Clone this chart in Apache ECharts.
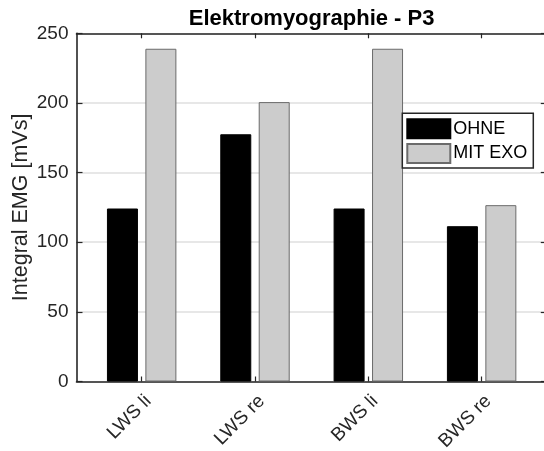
<!DOCTYPE html>
<html>
<head>
<meta charset="utf-8">
<script src="https://cdn.jsdelivr.net/npm/echarts@6/dist/echarts.min.js"></script>
<style>
  html, body { margin: 0; padding: 0; background: #fff; }
  #chart { width: 544px; height: 451px; }
</style>
</head>
<body>
<div id="chart"></div>
<script>
// Categories and measured values (integral EMG in mVs)
const categories = ['LWS li', 'LWS re', 'BWS li', 'BWS re'];
const positions = [1, 2, 3, 4];
const ohne = [124.2, 177.5, 124.2, 111.5];
const mitExo = [238.9, 200.6, 238.9, 126.6];

const axisColor = '#262626';
const font = 'Liberation Sans, Arial, Helvetica, sans-serif';

const pairs = (vals) => vals.map((v, i) => [positions[i], v]);

const xCommon = {
  type: 'value',
  min: 0.425,
  max: 4.575,
  axisLine: { show: true, onZero: false, lineStyle: { color: axisColor, width: 1.6 } },
  axisTick: { show: true, inside: true, length: 5, customValues: positions,
              lineStyle: { color: axisColor, width: 1.2 } },
  splitLine: { show: false }
};

const yCommon = {
  type: 'value',
  min: 0,
  max: 250,
  interval: 50,
  axisLine: { show: true, lineStyle: { color: axisColor, width: 1.6 } },
  axisTick: { show: true, inside: true, length: 6, lineStyle: { color: axisColor, width: 1.2 } }
};

const chart = echarts.init(document.getElementById('chart'), null, { renderer: 'canvas' });
chart.setOption({
  animation: false,
  backgroundColor: '#ffffff',
  title: {
    text: 'Elektromyographie - P3',
    left: 311.6,
    top: 8,
    padding: 0,
    textAlign: 'center',
    textStyle: { fontFamily: font, fontSize: 22, fontWeight: 'bold', color: '#000' }
  },
  grid: {
    left: 76.5, top: 33.3, width: 470.3, height: 348.2,
    containLabel: false,
    outerBoundsMode: 'none'
  },
  legend: {
    orient: 'vertical',
    left: 402.3,
    top: 113.3,
    padding: [5, 6, 4, 4],
    itemWidth: 43,
    itemHeight: 19,
    itemGap: 3.7,
    borderColor: axisColor,
    borderWidth: 1.5,
    backgroundColor: '#fff',
    icon: 'rect',
    textStyle: { fontFamily: font, fontSize: 18, lineHeight: 19, color: '#000', padding: [0, 0, 0, -2] },
    data: ['OHNE', 'MIT EXO']
  },
  xAxis: [
    Object.assign({}, xCommon, {
      position: 'bottom',
      axisLabel: {
        show: true,
        customValues: positions,
        rotate: 45,
        margin: 10,
        verticalAlign: 'top',
        fontFamily: font,
        fontSize: 19,
        color: axisColor,
        formatter: (v) => categories[Math.round(v) - 1]
      }
    }),
    Object.assign({}, xCommon, { position: 'top', axisLabel: { show: false } })
  ],
  yAxis: [
    Object.assign({}, yCommon, {
      position: 'left',
      name: 'Integral EMG [mVs]',
      nameLocation: 'middle',
      nameGap: 44,
      nameMoveOverlap: false,
      nameTextStyle: { fontFamily: font, fontSize: 21.5, color: axisColor },
      axisLabel: { show: true, margin: 8, fontFamily: font, fontSize: 19, color: axisColor },
      splitLine: { show: true, lineStyle: { color: '#dfdfdf', width: 1.5 } }
    }),
    Object.assign({}, yCommon, {
      position: 'right',
      axisLabel: { show: false },
      splitLine: { show: false }
    })
  ],
  series: [
    {
      name: 'OHNE',
      type: 'bar',
      xAxisIndex: 0,
      yAxisIndex: 0,
      barWidth: 31,
      barGap: '24%',
      data: pairs(ohne),
      itemStyle: { color: '#000000', borderColor: '#000000', borderWidth: 1 }
    },
    {
      name: 'MIT EXO',
      type: 'bar',
      xAxisIndex: 0,
      yAxisIndex: 0,
      barWidth: 31,
      barGap: '24%',
      data: pairs(mitExo),
      itemStyle: { color: '#cccccc', borderColor: '#6b6b6b', borderWidth: 1 }
    }
  ]
});
</script>
</body>
</html>
